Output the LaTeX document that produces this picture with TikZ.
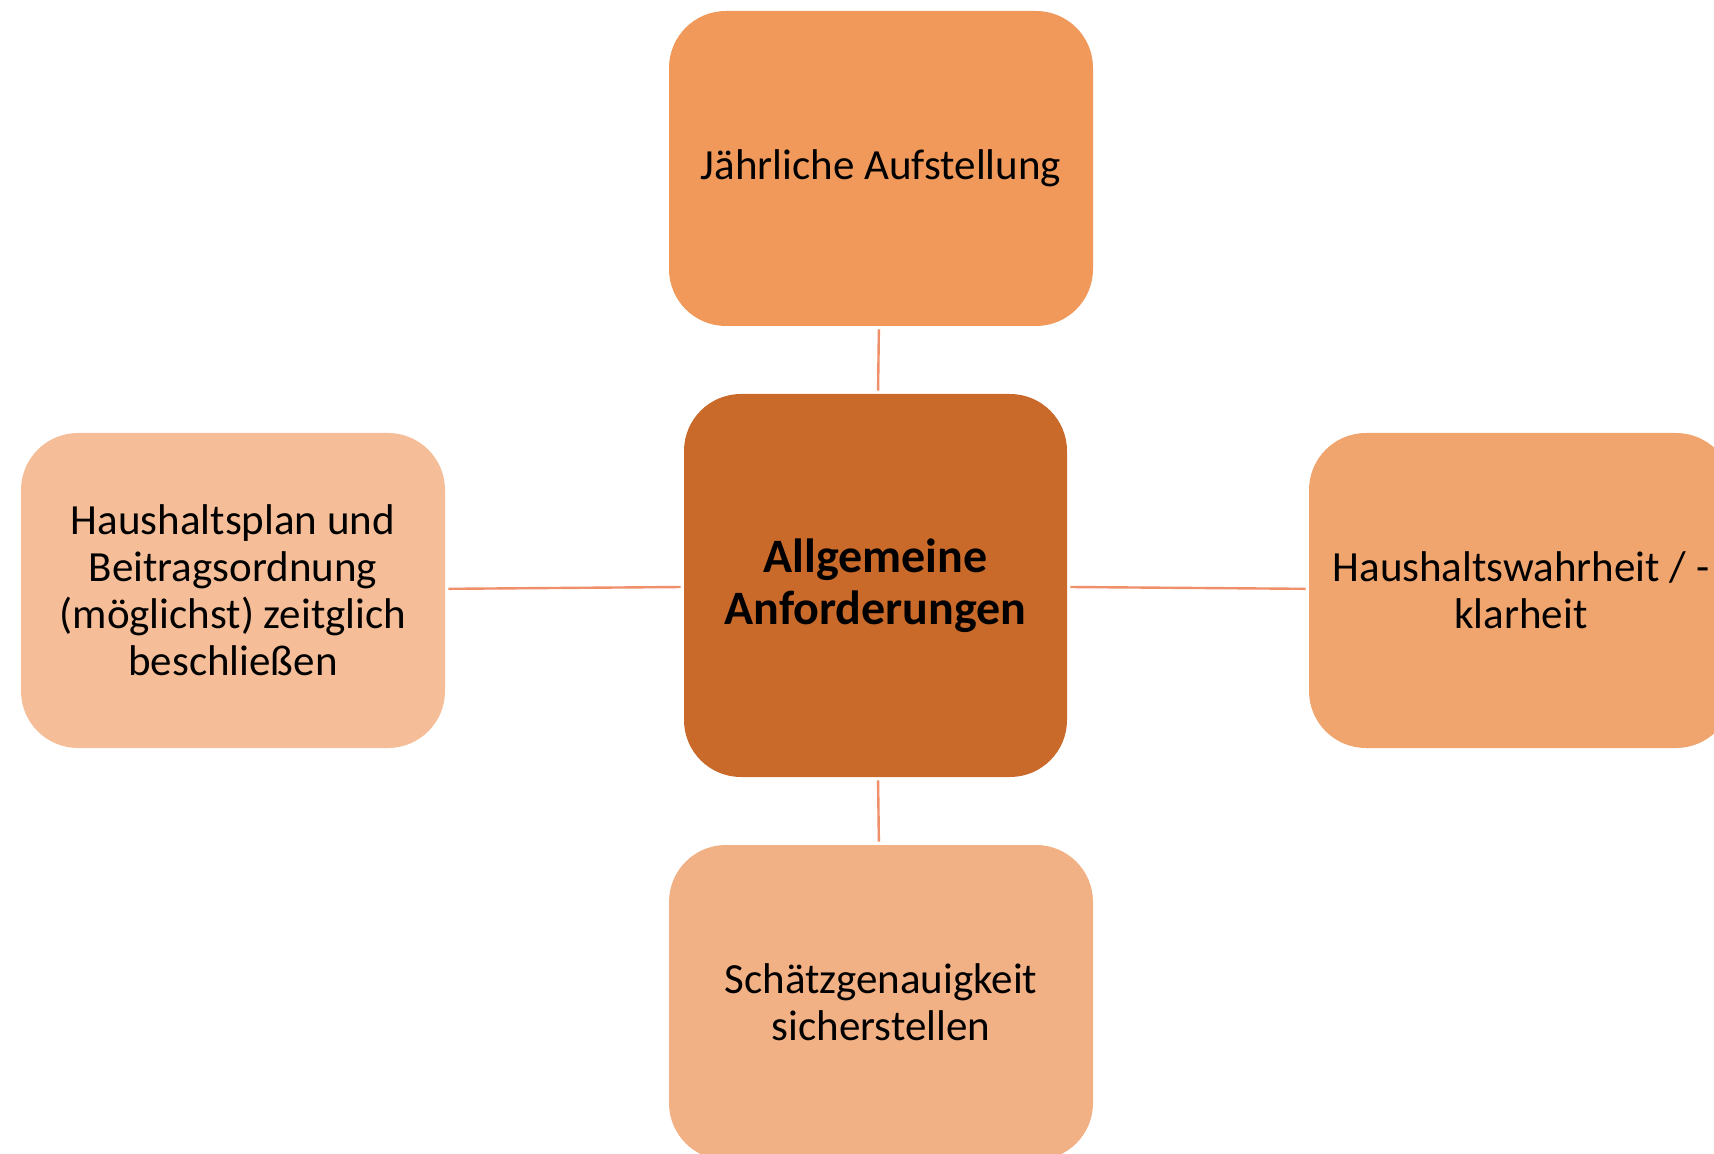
\documentclass[tikz,border=0pt]{standalone}
\usepackage{fontspec}
\setmainfont{Carlito}
\definecolor{ctop}{HTML}{F0995B}
\definecolor{cmid}{HTML}{C96A2A}
\definecolor{cleft}{HTML}{F5BE98}
\definecolor{cright}{HTML}{F0A56E}
\definecolor{cbot}{HTML}{F2B085}
\definecolor{cline}{HTML}{F0906A}
\begin{document}
\begin{tikzpicture}[x=0.5pt,y=-0.5pt,
  box/.style={rectangle,rounded corners=28.5pt,minimum width=212pt,minimum height=157.5pt,
    align=center,inner sep=0pt,font=\fontsize{21.5}{23.5}\selectfont},
  hub/.style={rectangle,rounded corners=28.5pt,minimum width=191.5pt,minimum height=191.5pt,fill=cmid,
    align=center,inner sep=0pt,font=\bfseries\fontsize{24}{26}\selectfont},
  link/.style={draw=cline,line width=1.2pt,shorten <=1.5pt,shorten >=1.5pt}]
\clip (0,0) rectangle (1714,1154);
\fill[white] (0,0) rectangle (1714,1154);
\node[hub] (c) at (875.5,585.5) {Allgemeine\\Anforderungen};
\node[box,fill=ctop] (t) at (881,168.5) {Jährliche Aufstellung};
\node[box,fill=cleft] (l) at (233,590.5) {Haushaltsplan und\\Beitragsordnung\\(möglichst) zeitglich\\beschließen};
\node[box,fill=cright] (r) at (1521,590.5) {Haushaltswahrheit / -\\klarheit};
\node[box,fill=cbot] (b) at (881,1002.5) {Schätzgenauigkeit\\sicherstellen};
\draw[link] (t) -- (c);
\draw[link] (c) -- (b);
\draw[link] (l) -- (c);
\draw[link] (c) -- (r);
\end{tikzpicture}
\end{document}
